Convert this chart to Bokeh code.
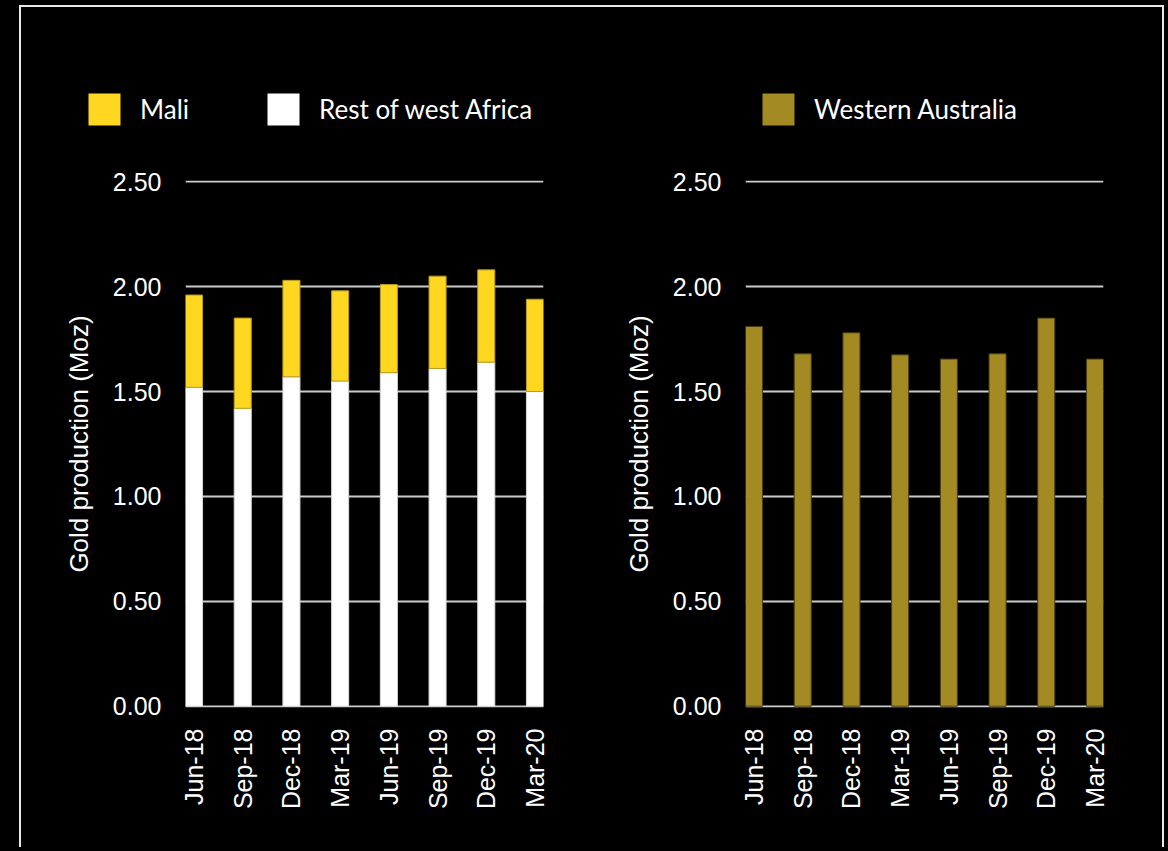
from math import pi
from bokeh.plotting import figure
from bokeh.layouts import row, column
from bokeh.models import (ColumnDataSource, FixedTicker, NumeralTickFormatter,
                          Legend, LegendItem, Range1d)
from bokeh.embed import file_html
from bokeh.resources import INLINE

quarters = ["Jun-18", "Sep-18", "Dec-18", "Mar-19", "Jun-19", "Sep-19", "Dec-19", "Mar-20"]
rest_of_west_africa = [1.52, 1.42, 1.57, 1.55, 1.59, 1.61, 1.64, 1.50]
mali = [0.44, 0.43, 0.46, 0.43, 0.42, 0.44, 0.44, 0.44]
western_australia = [1.81, 1.68, 1.78, 1.675, 1.655, 1.68, 1.85, 1.655]
y_ticks = [0.0, 0.5, 1.0, 1.5, 2.0, 2.5]

YELLOW = "#FFD620"
OLIVE = "#A38A22"
WHITE = "#FFFFFF"
AXIS_FONT = "Liberation Sans"
LEG_FONT = "Lato"
BORDER = "2px solid #e8e8e8"


def make_fig(width, min_right):
    p = figure(width=width, height=710, output_backend="svg", toolbar_location=None,
               x_range=Range1d(-0.175, len(quarters) - 1 + 0.175),
               y_range=Range1d(-0.006, 2.506),
               min_border_left=164, min_border_right=min_right,
               min_border_top=43, min_border_bottom=140,
               background_fill_color="black", border_fill_color="black",
               outline_line_color=None)
    p.xgrid.grid_line_color = None
    p.ygrid.grid_line_color = "#cccccc"
    p.ygrid.grid_line_width = 2
    p.ygrid.ticker = FixedTicker(ticks=y_ticks)

    ya = p.yaxis[0]
    ya.ticker = FixedTicker(ticks=y_ticks)
    ya.formatter = NumeralTickFormatter(format="0.00")
    ya.axis_line_color = None
    ya.major_tick_line_color = None
    ya.minor_tick_line_color = None
    ya.major_label_standoff = 18
    ya.major_label_text_font = AXIS_FONT
    ya.major_label_text_font_size = "25px"
    ya.major_label_text_color = "white"
    ya.axis_label = "Gold production (Moz)"
    ya.axis_label_text_font = AXIS_FONT
    ya.axis_label_text_font_size = "26px"
    ya.axis_label_text_font_style = "normal"
    ya.axis_label_text_color = "white"
    ya.axis_label_standoff = 16

    xa = p.xaxis[0]
    xa.ticker = FixedTicker(ticks=list(range(len(quarters))))
    xa.major_label_overrides = {i: q for i, q in enumerate(quarters)}
    xa.major_label_orientation = pi / 2
    xa.axis_line_color = None
    xa.major_tick_line_color = None
    xa.minor_tick_line_color = None
    xa.major_label_standoff = 15
    xa.major_label_text_font = AXIS_FONT
    xa.major_label_text_font_size = "25px"
    xa.major_label_text_color = "white"
    return p


# ---- legend strip ----
leg_fig = figure(width=1141, height=130, output_backend="svg", toolbar_location=None,
                 x_range=Range1d(0, 1), y_range=Range1d(0, 1),
                 x_axis_type=None, y_axis_type=None, min_border=0,
                 background_fill_color="black", border_fill_color="black",
                 outline_line_color=None)
leg_fig.grid.grid_line_color = None


def add_legend(color, label, x, y):
    # legend-only proxy: one row of NaN data, so nothing is drawn in the strip
    proxy = leg_fig.vbar(x=[float("nan")], top=[float("nan")], width=0.1,
                         fill_color=color, line_color=None)
    leg = Legend(items=[LegendItem(label=label, renderers=[proxy])],
                 location=(x, y), orientation="horizontal",
                 glyph_width=40, glyph_height=40, label_standoff=16,
                 padding=0, margin=0, spacing=0,
                 border_line_color=None, background_fill_alpha=0,
                 label_text_font=LEG_FONT, label_text_font_size="26px",
                 label_text_color="white")
    leg_fig.add_layout(leg)


add_legend(YELLOW, "Mali", 63, 8)
add_legend(WHITE, "Rest of west Africa", 242, 8)
add_legend(OLIVE, "Western Australia", 737, 8)

# ---- left panel: west Africa ----
src_left = ColumnDataSource(dict(x=list(range(len(quarters))),
                                 rest=rest_of_west_africa, mali=mali))
p1 = make_fig(560, 38)
p1.vbar_stack(["rest", "mali"], x="x", width=0.35, source=src_left,
              fill_color=[WHITE, YELLOW], line_color=["#d8d8d8", "#b89c1c"],
              line_width=1)

# ---- right panel: Western Australia ----
src_right = ColumnDataSource(dict(x=list(range(len(quarters))), wa=western_australia))
p2 = make_fig(581, 59)
p2.vbar(x="x", top="wa", width=0.35, source=src_right,
        fill_color=OLIVE, line_color="#4a3c12", line_width=1)

layout = column(leg_fig, row(p1, p2), margin=(5, 0, 0, 19),
                styles={"border-top": BORDER, "border-left": BORDER,
                        "border-right": BORDER, "background-color": "black"})

html = file_html(layout, INLINE, title="Gold production")
html = html.replace("<head>", "<head>\n<style>html, body { background: #000; }</style>", 1)
open("out.html", "w").write(html)
